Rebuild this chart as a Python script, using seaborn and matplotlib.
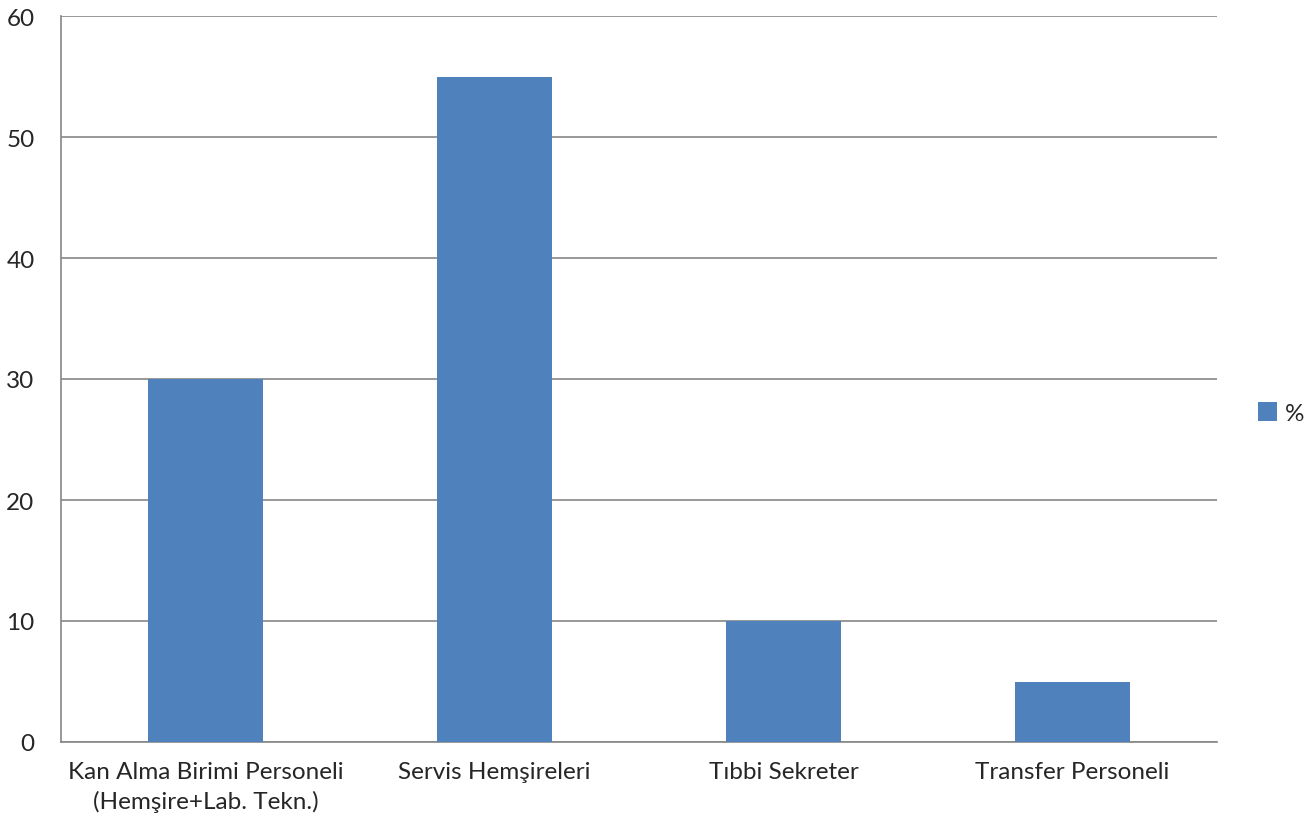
import matplotlib
matplotlib.use('Agg')
import matplotlib.pyplot as plt
import pandas as pd
import seaborn as sns

categories = ['Kan Alma Birimi Personeli\n(Hemşire+Lab. Tekn.)',
              'Servis Hemşireleri', 'Tıbbi Sekreter', 'Transfer Personeli']
values = [30, 55, 10, 5]
series_name = '%'
yticks = [0, 10, 20, 30, 40, 50, 60]

df = pd.DataFrame({'cat': categories, 'val': values})

sns.set_style('white')
plt.rcParams['font.family'] = ['Lato', 'DejaVu Sans']

fig = plt.figure(figsize=(13.04, 8.29), dpi=100)
ax = fig.add_axes([61 / 1304, 86 / 829, 1156 / 1304, 726 / 829])

sns.barplot(data=df, x='cat', y='val', color='#4F81BD', saturation=1,
            width=0.4, label=series_name, linewidth=0, ax=ax, zorder=3)

grid_c = '#868686'
fs = 17.5
ax.set_ylim(0, 60)
ax.set_xlim(-0.5, 3.5)
ax.set_yticks(yticks)
ax.yaxis.grid(True, color=grid_c, linewidth=1.2, zorder=0)
ax.set_axisbelow(True)
for s in ['top', 'right']:
    ax.spines[s].set_visible(False)
for s in ['left', 'bottom']:
    ax.spines[s].set_color(grid_c)
    ax.spines[s].set_linewidth(1.2)

# category boundary ticks on x, labels centred between them
ax.set_xticks([-0.5, 0.5, 1.5, 2.5, 3.5], minor=True)
ax.tick_params(axis='x', which='minor', length=7, width=1.2, color=grid_c)
ax.tick_params(axis='x', which='major', length=0, pad=14, labelsize=fs)
ax.tick_params(axis='y', length=7, width=1.2, color=grid_c, pad=12, labelsize=fs)
for t in ax.get_xticklabels():
    t.set_linespacing(1.4)
ax.set_xlabel('')
ax.set_ylabel('')

ax.legend(loc='center left', bbox_to_anchor=(1258 / 1304, 415 / 829),
          bbox_transform=fig.transFigure, frameon=False, fontsize=fs,
          handlelength=0.8, handleheight=0.8, handletextpad=0.3,
          borderpad=0, borderaxespad=0)

fig.savefig('out.png', dpi=100)
